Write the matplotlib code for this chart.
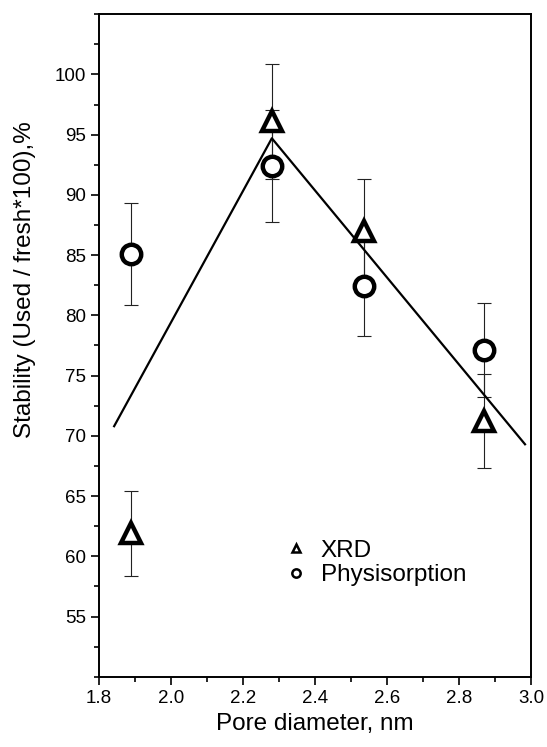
import matplotlib
matplotlib.use('Agg')
import matplotlib.pyplot as plt
from matplotlib.ticker import MultipleLocator

plt.rcParams['font.family'] = ['Liberation Sans', 'DejaVu Sans']

pore = [1.89, 2.28, 2.535, 2.87]
xrd = [61.9, 96.1, 87.0, 71.2]
xrd_err = [3.5, 4.8, 4.3, 3.9]
phys = [85.1, 92.4, 82.4, 77.1]
phys_err = [4.2, 4.65, 4.15, 3.9]

fit_x = [1.842, 2.28, 2.983]
fit_y = [70.8, 94.7, 69.3]

fig = plt.figure(figsize=(5.47, 7.47), dpi=100)
ax = fig.add_axes([0.181, 0.094, 0.79, 0.887])

ax.plot(fit_x, fit_y, color='black', lw=1.6, zorder=2)

ax.errorbar(pore, xrd, yerr=xrd_err, fmt='none', ecolor='#222222',
            elinewidth=0.8, capsize=5, capthick=0.8, zorder=1)
ax.errorbar(pore, phys, yerr=phys_err, fmt='none', ecolor='#222222',
            elinewidth=0.8, capsize=5, capthick=0.8, zorder=1)
ax.plot(pore, xrd, ls='none', marker='^', ms=14, mfc='white', mec='black',
        mew=3.2, zorder=3)
ax.plot(pore, phys, ls='none', marker='o', ms=14, mfc='white', mec='black',
        mew=3.2, zorder=3)

# legend handles (small markers)
ax.plot([], [], ls='none', marker='^', ms=6, mfc='white', mec='black',
        mew=1.8, label='XRD')
ax.plot([], [], ls='none', marker='o', ms=6, mfc='white', mec='black',
        mew=1.8, label='Physisorption')
handles, labels = ax.get_legend_handles_labels()
ax.legend(handles[-2:], labels[-2:], loc='upper left',
          bbox_to_anchor=(0.395, 0.225), frameon=False, fontsize=17.5,
          handletextpad=0.4, labelspacing=0.1, handlelength=1.2,
          borderpad=0)

ax.set_xlim(1.8, 3.0)
ax.set_ylim(50, 105)
ax.xaxis.set_major_locator(MultipleLocator(0.2))
ax.xaxis.set_minor_locator(MultipleLocator(0.1))
ax.yaxis.set_minor_locator(MultipleLocator(2.5))
ax.set_yticks([55, 60, 65, 70, 75, 80, 85, 90, 95, 100])
ax.tick_params(which='both', direction='out', width=1.2, labelsize=13.5)
ax.tick_params(which='major', length=6)
ax.tick_params(which='minor', length=3.5)
for s in ax.spines.values():
    s.set_linewidth(1.4)

ax.set_xlabel('Pore diameter, nm', fontsize=17.5)
ax.set_ylabel('Stability (Used / fresh*100),%', fontsize=17.5)
ax.yaxis.set_label_coords(-0.145, 0.60)

fig.savefig('out.png', dpi=100)
